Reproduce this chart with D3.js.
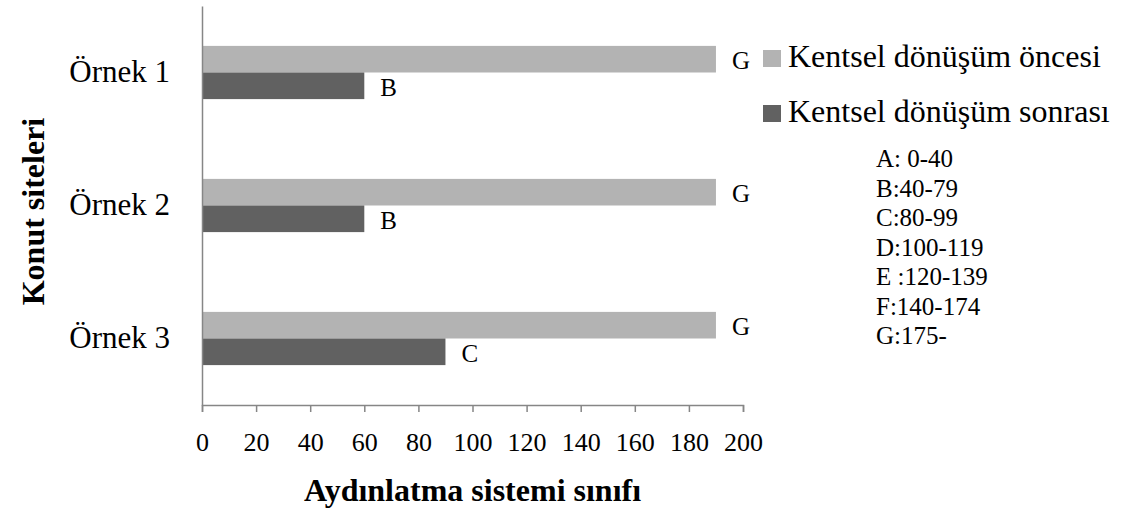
<!DOCTYPE html>
<html>
<head>
<meta charset="utf-8">
<script src="https://cdn.jsdelivr.net/npm/d3@7"></script>
<style>
  body { margin: 0; background: #fff; }
  svg { display: block; font-family: "Liberation Serif", "Times New Roman", serif; }
</style>
</head>
<body>
<div id="chart"></div>
<script>
// Data
const categories = ['Örnek 1', 'Örnek 2', 'Örnek 3'];
const seriesNames = ['Kentsel dönüşüm öncesi', 'Kentsel dönüşüm sonrası'];
const before = [190, 190, 190];
const after = [60, 60, 90];
const beforeLabels = ['G', 'G', 'G'];
const afterLabels = ['B', 'B', 'C'];
const xTicks = [0, 20, 40, 60, 80, 100, 120, 140, 160, 180, 200];
const classes = ['A: 0-40', 'B:40-79', 'C:80-99', 'D:100-119', 'E :120-139', 'F:140-174', 'G:175-'];

const W = 1122, H = 513;
const margin = { left: 202, right: 379, top: 6, bottom: 108 };
const innerW = W - margin.left - margin.right;
const innerH = H - margin.top - margin.bottom;
const colors = ['#b3b3b3', '#616161'];
const axisColor = '#868686';
const serif = '"Liberation Serif", "Times New Roman", serif';

const svg = d3.select('#chart').append('svg')
  .attr('width', W)
  .attr('height', H);

const g = svg.append('g')
  .attr('transform', `translate(${margin.left},${margin.top})`);

const x = d3.scaleLinear().domain([0, 200]).range([0, innerW]);
const y = d3.scaleBand().domain(categories).range([0, innerH]).paddingInner(0.6).paddingOuter(0.3);
const sub = d3.scaleBand().domain([0, 1]).range([0, y.bandwidth()]);

const rows = categories.map((c, i) => ({
  cat: c,
  vals: [
    { s: 0, v: before[i], lab: beforeLabels[i] },
    { s: 1, v: after[i], lab: afterLabels[i] }
  ]
}));

// Bars
const grp = g.selectAll('.row').data(rows).join('g')
  .attr('transform', d => `translate(0,${y(d.cat)})`);

grp.selectAll('rect').data(d => d.vals).join('rect')
  .attr('x', 0)
  .attr('y', d => sub(d.s))
  .attr('width', d => x(d.v))
  .attr('height', sub.bandwidth())
  .attr('fill', d => colors[d.s]);

grp.selectAll('text').data(d => d.vals).join('text')
  .attr('x', d => x(d.v) + 16)
  .attr('y', d => sub(d.s) + sub.bandwidth() / 2 + 10)
  .attr('font-size', '25px')
  .attr('fill', '#000')
  .text(d => d.lab);

// Axes
const xAxis = g.append('g')
  .attr('transform', `translate(0,${innerH})`)
  .call(d3.axisBottom(x).tickValues(xTicks).tickSize(7).tickPadding(21));
xAxis.select('.domain').attr('stroke', axisColor).attr('stroke-width', 1.5);
xAxis.selectAll('.tick line').attr('stroke', axisColor).attr('stroke-width', 1.5);
xAxis.selectAll('.tick text')
  .attr('font-family', serif)
  .attr('font-size', '26px')
  .attr('fill', '#000');

const yAxis = g.append('g')
  .call(d3.axisLeft(y).tickSize(0).tickPadding(32));
yAxis.select('.domain').attr('stroke', axisColor).attr('stroke-width', 1.5);
yAxis.selectAll('.tick text')
  .attr('font-family', serif)
  .attr('font-size', '31px')
  .attr('fill', '#000');

// Axis titles
svg.append('text')
  .attr('x', margin.left + innerW / 2)
  .attr('y', 501)
  .attr('text-anchor', 'middle')
  .attr('font-size', '32px')
  .attr('font-weight', 'bold')
  .text('Aydınlatma sistemi sınıfı');

svg.append('text')
  .attr('transform', `translate(37,${margin.top + innerH / 2 + 6}) rotate(-90)`)
  .attr('text-anchor', 'middle')
  .attr('dominant-baseline', 'middle')
  .attr('font-size', '32px')
  .attr('font-weight', 'bold')
  .text('Konut siteleri');

// Legend
const legend = svg.append('g').attr('transform', 'translate(763,0)');
seriesNames.forEach((name, i) => {
  const base = 67 + i * 55;
  legend.append('rect')
    .attr('x', 0).attr('y', base - 17)
    .attr('width', 18).attr('height', 17)
    .attr('fill', colors[i]);
  legend.append('text')
    .attr('x', 25).attr('y', base)
    .attr('font-size', '32px')
    .text(name);
});

// Class ranges
svg.append('g').selectAll('text').data(classes).join('text')
  .attr('x', 876)
  .attr('y', (d, i) => 167 + i * 29.5)
  .attr('font-size', '25px')
  .text(d => d);
</script>
</body>
</html>
